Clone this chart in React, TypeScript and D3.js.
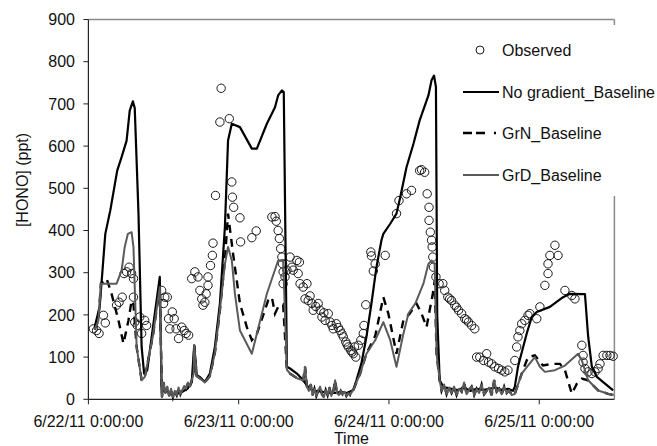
import React from 'react';
import * as d3 from 'd3';

// time in hours after 6/22/11 0:00, value in ppt
const observed: [number, number][] = [
  [0.8, 167], [1.3, 163], [1.7, 156], [2.4, 199], [2.7, 181], [4.5, 223], [4.9, 230], [5.4, 242],
  [5.7, 298], [6.1, 302], [6.5, 313], [6.9, 298], [7.2, 286], [7.2, 242], [7.4, 183], [7.8, 175],
  [8.2, 195], [8.5, 156], [9.0, 187], [9.3, 175], [11.7, 258], [12.0, 227], [12.2, 242], [12.6, 242],
  [12.8, 191], [13.0, 167], [13.4, 207], [13.7, 191], [14.0, 167], [14.4, 144], [14.9, 171], [15.3, 163],
  [15.6, 156], [16.0, 152], [16.5, 286], [17.0, 302], [17.5, 290], [17.8, 258], [18.1, 238], [18.3, 223],
  [18.6, 230], [18.8, 250], [19.1, 270], [19.1, 290], [19.5, 317], [19.8, 341], [19.9, 370], [20.3, 483],
  [21.0, 657], [21.2, 737], [22.5, 665], [22.9, 515], [23.0, 479], [23.2, 455], [24.2, 430], [24.3, 373],
  [26.1, 383], [26.8, 399], [29.3, 432], [29.8, 433], [30.0, 422], [30.3, 400], [30.5, 381], [30.7, 357],
  [30.9, 337], [31.0, 321], [31.1, 302], [31.1, 274], [31.4, 290], [31.7, 306], [32.2, 337], [32.5, 313],
  [32.7, 306], [33.3, 329], [33.7, 325], [33.5, 298], [33.8, 274], [34.3, 266], [34.9, 274], [34.6, 238],
  [35.1, 234], [35.4, 245], [35.7, 227], [35.9, 211], [36.3, 220], [36.7, 227], [37.0, 211], [37.3, 195],
  [37.6, 205], [37.8, 187], [38.3, 203], [38.6, 183], [38.9, 175], [39.1, 167], [39.6, 179], [39.9, 170],
  [40.2, 163], [40.5, 155], [40.7, 148], [41.1, 136], [41.3, 130], [41.5, 124], [41.9, 116], [42.1, 112],
  [42.3, 108], [42.7, 100], [42.5, 124], [43.1, 128], [43.5, 140], [43.9, 156], [44.0, 175], [44.3, 224],
  [45.1, 349], [45.2, 340], [45.8, 321], [45.5, 304], [47.4, 341], [49.2, 440], [49.6, 471], [50.8, 487],
  [51.6, 495], [52.9, 542], [53.2, 544], [53.7, 538], [54.1, 487], [54.4, 455], [54.4, 424], [54.6, 396],
  [54.8, 377], [54.9, 361], [55.0, 337], [55.1, 313], [55.5, 290], [56.0, 274], [56.6, 274], [56.9, 258],
  [57.4, 242], [57.7, 238], [58.0, 234], [58.5, 223], [58.8, 218], [59.1, 211], [59.6, 203], [60.1, 191],
  [60.4, 188], [60.7, 183], [61.2, 175], [61.7, 167], [62.0, 100], [62.5, 100], [63.1, 92], [63.6, 108],
  [63.9, 88], [64.4, 84], [64.9, 77], [65.5, 73], [66.0, 69], [66.5, 65], [67.0, 69], [68.1, 92],
  [68.4, 124], [68.6, 148], [68.9, 163], [69.2, 179], [69.7, 187], [70.2, 199], [70.5, 203], [71.6, 191],
  [72.1, 219], [72.9, 270], [73.4, 298], [73.4, 321], [73.7, 341], [75.0, 341], [74.5, 365], [76.1, 258],
  [77.2, 246], [77.7, 238], [78.8, 128], [79.0, 104], [79.0, 88], [79.3, 73], [79.8, 65], [80.4, 61],
  [80.9, 65], [81.4, 73], [81.7, 84], [82.2, 104], [82.8, 104], [83.3, 104], [83.8, 102],
];

const noGradient: [number, number][] = [
  [1.0, 171], [1.8, 219], [2.7, 392], [3.5, 448], [4.6, 542], [5.3, 574], [6.1, 613], [6.6, 684],
  [7.1, 706], [7.4, 690], [8.0, 440], [8.5, 124], [8.9, 61], [9.4, 69], [10.3, 170], [11.4, 290],
  [11.7, 15], [12.2, 25], [13.0, 15], [14.0, 12], [15.0, 18], [15.8, 25], [16.5, 40], [16.9, 128],
  [17.3, 57], [17.8, 53], [18.6, 41], [19.4, 61], [20.2, 124], [21.0, 227], [21.8, 408], [22.3, 613],
  [22.9, 653], [24.2, 645], [26.1, 594], [26.9, 594], [28.5, 653], [29.8, 692], [30.3, 720], [30.9, 732],
  [31.2, 728], [31.7, 77], [32.2, 73], [33.3, 61], [34.3, 45], [35.3, 25], [36.3, 20], [37.3, 18],
  [38.3, 15], [39.3, 15], [40.3, 18], [41.3, 15], [42.3, 22], [42.8, 45], [43.6, 85], [44.4, 148],
  [45.2, 227], [46.0, 313], [46.8, 377], [47.1, 392], [48.2, 416], [49.2, 440], [49.8, 479], [50.8, 550],
  [51.9, 605], [52.9, 661], [54.3, 720], [54.8, 756], [55.2, 767], [55.5, 740], [55.7, 200], [56.1, 45],
  [56.7, 29], [58.0, 25], [59.0, 22], [60.0, 28], [61.0, 20], [62.0, 25], [63.0, 22], [64.0, 25],
  [65.0, 28], [66.0, 22], [67.0, 25], [67.8, 20], [68.1, 30], [68.6, 77], [70.0, 156], [70.8, 195],
  [71.6, 207], [73.7, 219], [75.8, 242], [76.9, 250], [79.3, 249], [79.8, 150], [80.4, 77], [81.2, 53],
  [82.5, 37], [83.8, 21],
];

// near-zero stretches shared by GrN and GrD
const lowA: [number, number][] = [
  [12.0, 40], [12.3, 15], [12.6, 30], [12.9, 8], [13.2, 25], [13.5, 5], [13.8, 20], [14.1, 10],
  [14.4, 28], [14.7, 12], [15.0, 22], [15.3, 32], [15.6, 25], [15.9, 40], [16.2, 30], [16.5, 45], [16.8, 60],
];
const lowB: [number, number][] = [
  [34.6, 77], [34.9, 30], [35.2, 20], [35.5, 35], [35.8, 10], [36.1, 25], [36.4, 8], [36.7, 20],
  [37.0, 30], [37.3, 12], [37.6, 5], [37.9, 22], [38.2, 10], [38.5, 28], [38.8, 8], [39.1, 18],
  [39.4, 45], [39.7, 15], [40.0, 10], [40.3, 20], [40.6, 12], [40.9, 18], [41.2, 8], [41.5, 15],
  [41.8, 10], [42.1, 18], [42.4, 25],
];
const lowC: [number, number][] = [
  [56.4, 20], [56.8, 35], [57.2, 12], [57.6, 28], [58.0, 15], [58.4, 30], [58.8, 10], [59.2, 25],
  [59.6, 18], [60.0, 40], [60.4, 12], [60.8, 22], [61.2, 30], [61.6, 10], [62.0, 25], [62.4, 15],
  [62.8, 35], [63.2, 12], [63.6, 20], [64.0, 28], [64.4, 10], [64.8, 45], [65.2, 18], [65.6, 25],
  [66.0, 12], [66.4, 30], [66.8, 15], [67.2, 22], [67.6, 10],
];

const grDDay1: [number, number][] = [
  [1.0, 165], [1.6, 187], [2.0, 274], [4.5, 274], [5.3, 305], [5.8, 361], [6.3, 392], [6.9, 396],
  [7.2, 360], [7.7, 124], [8.5, 45], [9.0, 53], [10.3, 150], [11.4, 266], [11.75, 5],
];
const grDDay2: [number, number][] = [
  [16.9, 128], [17.3, 55], [17.8, 50], [18.6, 40], [19.4, 55], [20.2, 110], [21.0, 211], [21.8, 321],
  [22.3, 361], [22.9, 329], [23.4, 250], [24.2, 163], [26.1, 108], [28.5, 250], [30.3, 329], [31.1, 329],
  [31.7, 70], [32.2, 61], [33.3, 50], [34.3, 45],
];
const grDDay3: [number, number][] = [
  [42.8, 40], [43.4, 61], [44.4, 108], [45.8, 140], [47.1, 183], [48.2, 140], [49.2, 77], [50.3, 155],
  [51.1, 203], [52.2, 227], [53.5, 274], [54.3, 321], [54.8, 329], [55.3, 320], [55.6, 108], [56.1, 45],
];
const grDDay4: [number, number][] = [
  [68.1, 13], [69.2, 61], [70.2, 80], [71.3, 100], [72.1, 77], [72.9, 65], [74.5, 69], [76.1, 80],
  [78.2, 108], [78.8, 92], [79.8, 45], [81.4, 21], [83.0, 13], [83.9, 10],
];

const grNDay1: [number, number][] = [
  [1.0, 165], [1.6, 187], [2.0, 274], [2.9, 286], [3.7, 250], [4.8, 187], [5.6, 132], [6.4, 187],
  [6.9, 234], [7.2, 225], [7.7, 124], [8.5, 45], [9.0, 53], [10.3, 150], [11.4, 266], [11.75, 5],
];
const grNDay2: [number, number][] = [
  [16.9, 128], [17.3, 55], [17.8, 50], [18.6, 40], [19.4, 55], [20.2, 110], [21.0, 211], [21.8, 330],
  [22.3, 440], [23.1, 345], [24.2, 227], [25.3, 171], [26.1, 140], [26.9, 155], [28.7, 234], [29.3, 242],
  [29.8, 203], [30.3, 219], [31.1, 225], [31.7, 70], [32.2, 61], [33.3, 50], [34.3, 45],
];
const grNDay3: [number, number][] = [
  [42.8, 40], [43.4, 61], [44.4, 108], [45.8, 150], [47.1, 242], [47.9, 203], [49.2, 108], [50.3, 187],
  [51.3, 203], [52.4, 227], [53.2, 203], [54.0, 171], [54.5, 211], [55.0, 250], [55.3, 280], [55.6, 108],
  [56.1, 45],
];
const grNDay4: [number, number][] = [
  [68.1, 13], [69.2, 61], [70.2, 100], [71.3, 104], [72.6, 80], [74.0, 84], [75.3, 84], [76.1, 69],
  [77.2, 13], [78.0, 37], [78.8, 49], [79.8, 45], [81.4, 21], [83.0, 13], [83.9, 10],
];

const grD = [...grDDay1, ...lowA, ...grDDay2, ...lowB, ...grDDay3, ...lowC, ...grDDay4];
const grN = [...grNDay1, ...lowA, ...grNDay2, ...lowB, ...grNDay3, ...lowC, ...grNDay4];

const yTicks = [0, 100, 200, 300, 400, 500, 600, 700, 800, 900];
const legendLabels = ['Observed', 'No gradient_Baseline', 'GrN_Baseline', 'GrD_Baseline'];

const FONT = "'Liberation Sans', Arial, sans-serif";
const start = new Date(2011, 5, 22, 0, 0, 0);
const end = new Date(2011, 5, 25, 12, 0, 0);
const toDate = (h: number) => new Date(start.getTime() + h * 3600 * 1000);

export default function App() {
  const W = 657;
  const H = 446;
  const m = { left: 88.4, right: 614.4, top: 19.5, bottom: 399.3 };

  const x = d3.scaleTime().domain([start, end]).range([m.left, m.right]);
  const y = d3.scaleLinear().domain([0, 900]).range([m.bottom, m.top]);
  const line = d3
    .line<[number, number]>()
    .x((d) => x(toDate(d[0])))
    .y((d) => y(d[1]));

  const xTicks = x.ticks(d3.timeDay.every(1)!);
  const fmt = d3.timeFormat('%-m/%-d/%y %-H:%M:%S');

  const legendY = [50, 92, 133, 175];

  return (
    <div style={{ position: 'absolute', left: 0, top: 0 }}>
      <svg width={W} height={H} style={{ display: 'block', background: '#fff' }} fontFamily={FONT}>
        {/* frame */}
        <line x1={m.left} x2={m.right} y1={m.top} y2={m.top} stroke="#8a8a8a" strokeWidth={1.5} />
        <line x1={m.right} x2={m.right} y1={m.top} y2={m.bottom} stroke="#8a8a8a" strokeWidth={1.5} />

        {/* observed */}
        <g>
          {observed.map((d, i) => (
            <circle key={i} cx={x(toDate(d[0]))} cy={y(d[1])} r={4.2} fill="none" stroke="#1a1a1a" strokeWidth={1} />
          ))}
        </g>

        <path d={line(noGradient) || ''} fill="none" stroke="#000" strokeWidth={2.2} strokeLinejoin="round" />
        <path d={line(grN) || ''} fill="none" stroke="#000" strokeWidth={2.4} strokeDasharray="8,6" />
        <path d={line(grD) || ''} fill="none" stroke="#5a5a5a" strokeWidth={2} strokeLinejoin="round" />

        {/* axes */}
        <line x1={m.left} x2={m.left} y1={m.top} y2={m.bottom} stroke="#222" strokeWidth={1.2} />
        <line x1={m.left} x2={m.right} y1={m.bottom} y2={m.bottom} stroke="#222" strokeWidth={1.2} />
        {yTicks.map((t) => (
          <g key={t}>
            <line x1={m.left - 5} x2={m.left} y1={y(t)} y2={y(t)} stroke="#222" strokeWidth={1} />
            <text x={75} y={y(t)} dy="0.35em" textAnchor="end" fontSize={16} fill="#111">
              {t}
            </text>
          </g>
        ))}
        {xTicks.map((t, i) => (
          <g key={i}>
            <line x1={x(t)} x2={x(t)} y1={m.bottom} y2={m.bottom + 5} stroke="#222" strokeWidth={1} />
            <text x={x(t)} y={427} textAnchor="middle" fontSize={16} fill="#111">
              {fmt(t)}
            </text>
          </g>
        ))}
        <text x={(m.left + m.right) / 2} y={444} textAnchor="middle" fontSize={16} fill="#111">
          Time
        </text>
        <text transform="translate(22,180) rotate(-90)" dy="0.35em" textAnchor="middle" fontSize={16} fill="#111">
          [HONO] (ppt)
        </text>

        {/* legend */}
        <rect x={458} y={25} width={199} height={171} fill="#fff" />
        <circle cx={480} cy={legendY[0]} r={4} fill="none" stroke="#1a1a1a" strokeWidth={1} />
        <line x1={463} x2={499} y1={legendY[1]} y2={legendY[1]} stroke="#000" strokeWidth={2.2} />
        <line x1={463} x2={499} y1={legendY[2]} y2={legendY[2]} stroke="#000" strokeWidth={2.4} strokeDasharray="9,4,9,9,2" />
        <line x1={463} x2={499} y1={legendY[3]} y2={legendY[3]} stroke="#5a5a5a" strokeWidth={2} />
        {legendLabels.map((l, i) => (
          <text key={l} x={502} y={legendY[i]} dy="0.35em" fontSize={16} fill="#111">
            {l}
          </text>
        ))}
      </svg>
    </div>
  );
}
